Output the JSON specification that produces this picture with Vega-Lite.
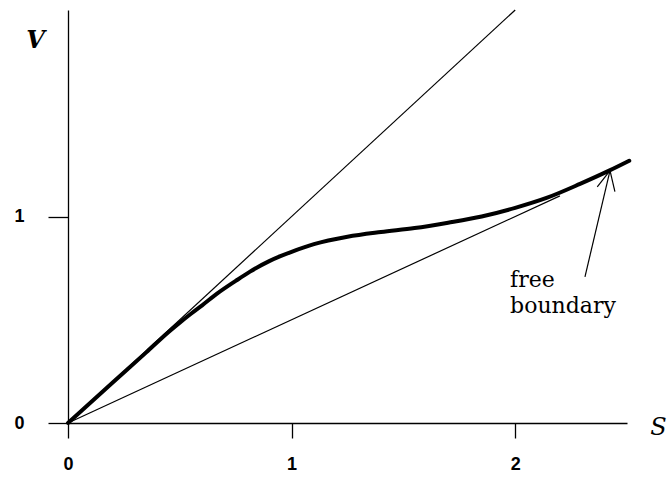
{
  "$schema": "https://vega.github.io/schema/vega-lite/v6.json",
  "width": 559,
  "height": 413,
  "autosize": {"type": "none"},
  "padding": {"left": 68, "top": 10, "right": 41, "bottom": 55},
  "background": "white",
  "config": {
    "view": {"stroke": null},
    "axis": {
      "grid": false,
      "domainColor": "black", "domainWidth": 1.3,
      "tickColor": "black", "tickWidth": 1.3,
      "labelColor": "black",
      "labelFlush": false,
      "labelFont": "Liberation Sans", "labelFontWeight": "bold", "labelFontSize": 18,
      "titleFont": "DejaVu Serif", "titleFontStyle": "italic",
      "titleFontSize": 24, "titleColor": "black"
    }
  },
  "datasets": {
    "segments": [
      {"s": 0, "v": 0, "s2": 2.0, "v2": 2.0},
      {"s": 0, "v": 0, "s2": 2.2, "v2": 1.1},
      {"s": 2.312, "v": 0.708, "s2": 2.424, "v2": 1.222},
      {"s": 2.367, "v": 1.144, "s2": 2.424, "v2": 1.222},
      {"s": 2.446, "v": 1.12, "s2": 2.424, "v2": 1.222}
    ],
    "curve": [
      {"s": 0, "v": 0},
      {"s": 0.2, "v": 0.196},
      {"s": 0.35, "v": 0.342},
      {"s": 0.45, "v": 0.441},
      {"s": 0.5, "v": 0.486},
      {"s": 0.55, "v": 0.529},
      {"s": 0.6, "v": 0.57},
      {"s": 0.665, "v": 0.625},
      {"s": 0.75, "v": 0.688},
      {"s": 0.814, "v": 0.733},
      {"s": 0.9, "v": 0.784},
      {"s": 0.95, "v": 0.808},
      {"s": 1.0, "v": 0.829},
      {"s": 1.1, "v": 0.866},
      {"s": 1.25, "v": 0.902},
      {"s": 1.4, "v": 0.925},
      {"s": 1.55, "v": 0.944},
      {"s": 1.7, "v": 0.97},
      {"s": 1.85, "v": 1.0},
      {"s": 2.0, "v": 1.042},
      {"s": 2.14, "v": 1.09},
      {"s": 2.29, "v": 1.158},
      {"s": 2.42, "v": 1.222},
      {"s": 2.51, "v": 1.27}
    ],
    "notes": [
      {"s": 1.977, "v": 0.659, "label": "free"},
      {"s": 1.977, "v": 0.533, "label": "boundary"}
    ]
  },
  "encoding": {
    "x": {
      "field": "s", "type": "quantitative",
      "scale": {"domain": [0, 2.5], "nice": false, "zero": false},
      "axis": {
        "values": [0, 1, 2], "tickSize": 15, "labelPadding": 17,
        "labelFontSize": 18,
        "encode": {"labels": {"update": {"fontSize": {"value": 18}, "fontWeight": {"value": "bold"}, "font": {"value": "Liberation Sans"}}}},
        "title": "S", "titleFontWeight": "normal", "titleAngle": 0,
        "titleX": 590, "titleY": 4, "titleAlign": "center", "titleBaseline": "middle"
      }
    },
    "y": {
      "field": "v", "type": "quantitative",
      "scale": {"domain": [0, 2], "nice": false, "zero": false},
      "axis": {
        "values": [0, 1], "tickSize": 20, "labelPadding": 24,
        "labelFontSize": 18,
        "encode": {"labels": {"update": {"fontSize": {"value": 18}, "fontWeight": {"value": "bold"}, "font": {"value": "Liberation Sans"}}}},
        "title": "V", "titleFontWeight": "bold", "titleAngle": 0,
        "titleX": -33, "titleY": 30, "titleAlign": "center", "titleBaseline": "middle"
      }
    }
  },
  "layer": [
    {
      "data": {"name": "segments"},
      "mark": {"type": "rule", "color": "black", "strokeWidth": 1.2},
      "encoding": {
        "x2": {"field": "s2"},
        "y2": {"field": "v2"}
      }
    },
    {
      "data": {"name": "curve"},
      "mark": {"type": "line", "color": "black", "strokeWidth": 4, "interpolate": "monotone", "strokeCap": "round"},
      "encoding": {}
    },
    {
      "data": {"name": "notes"},
      "mark": {"type": "text", "font": "DejaVu Serif", "fontSize": 22, "align": "left", "baseline": "alphabetic", "color": "black"},
      "encoding": {
        "text": {"field": "label"}
      }
    }
  ]
}
